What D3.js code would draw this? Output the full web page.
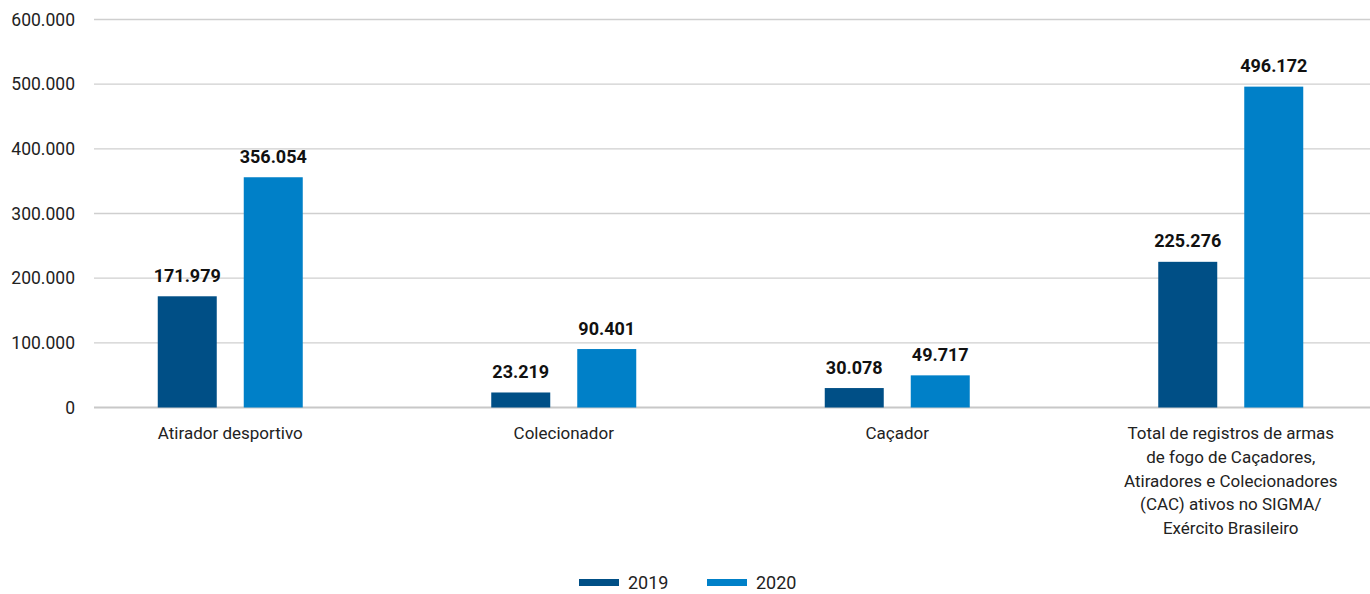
<!DOCTYPE html>
<html><head><meta charset="utf-8">
<script src="https://cdn.jsdelivr.net/npm/d3@7"></script>
<style>
body{margin:0;background:#fff;}
svg{display:block;font-family:"Liberation Sans Narrow","Roboto","Liberation Sans",sans-serif;}
</style></head>
<body><svg id="c" width="1370" height="594"></svg>
<script>
const categories = [
  ["Atirador desportivo"],
  ["Colecionador"],
  ["Caçador"],
  ["Total de registros de armas","de fogo de Caçadores,","Atiradores e Colecionadores","(CAC) ativos no SIGMA/","Exército Brasileiro"]
];
const seriesNames = ["2019","2020"];
const values2019 = [171979, 23219, 30078, 225276];
const values2020 = [356054, 90401, 49717, 496172];
const yTicks = [0,100000,200000,300000,400000,500000,600000];
const colors = ["#004f86","#0080c8"];

const svg = d3.select("#c");
const fmt = v => d3.format(",")(v).replace(/,/g,".");
const y = d3.scaleLinear().domain([0,600000]).range([407.5,19.5]);
const x = d3.scaleBand().domain(d3.range(categories.length)).range([63.5,1397.5]).padding(0);
const xs = d3.scaleBand().domain(seriesNames).range([-72.5,72.5]).paddingInner(27/86).paddingOuter(0);

// gridlines
svg.append("g").selectAll("line").data(yTicks).join("line")
  .attr("x1",94).attr("x2",1370)
  .attr("y1",d=>y(d)).attr("y2",d=>y(d))
  .attr("stroke",d=>d===0?"#c8c8c8":"#cfcfcf").attr("stroke-width",d=>d===0?2:1.3);

// y axis labels
svg.append("g").selectAll("text").data(yTicks).join("text")
  .attr("x",75).attr("y",d=>y(d)).attr("dy","0.35em")
  .attr("text-anchor","end").attr("font-size",17.5).attr("fill","#222")
  .text(d=>fmt(d));

const data = seriesNames.map((s,i)=>({s, vals: i===0?values2019:values2020, color: colors[i]}));
data.forEach(ser=>{
  const g = svg.append("g");
  g.selectAll("rect").data(ser.vals).join("rect")
    .attr("x",(d,i)=>x(i)+x.bandwidth()/2+xs(ser.s))
    .attr("width",xs.bandwidth())
    .attr("y",d=>y(d)).attr("height",d=>y(0)-y(d))
    .attr("fill",ser.color);
  g.selectAll("text").data(ser.vals).join("text")
    .attr("x",(d,i)=>x(i)+x.bandwidth()/2+xs(ser.s)+xs.bandwidth()/2)
    .attr("y",d=>y(d)-14.5)
    .attr("text-anchor","middle").attr("font-size",18).attr("font-weight","bold").attr("fill","#111")
    .text(d=>fmt(d));
});

// category labels
const cl = svg.append("g").selectAll("text").data(categories).join("text")
  .attr("x",(d,i)=>x(i)+x.bandwidth()/2).attr("y",439)
  .attr("text-anchor","middle").attr("font-size",17).attr("fill","#222");
cl.selectAll("tspan").data(d=>d).join("tspan")
  .attr("x",function(){return this.parentNode.getAttribute("x");})
  .attr("dy",(d,i)=>i===0?0:23.8).text(d=>d);

// legend
const lg = svg.append("g").selectAll("g").data(seriesNames).join("g")
  .attr("transform",(d,i)=>`translate(${579+i*128},0)`);
lg.append("rect").attr("x",0).attr("y",579).attr("width",40).attr("height",7).attr("fill",(d,i)=>colors[i]);
lg.append("text").attr("x",49).attr("y",583).attr("dy","0.35em").attr("font-size",18).attr("fill","#222").text(d=>d);
</script></body></html>
